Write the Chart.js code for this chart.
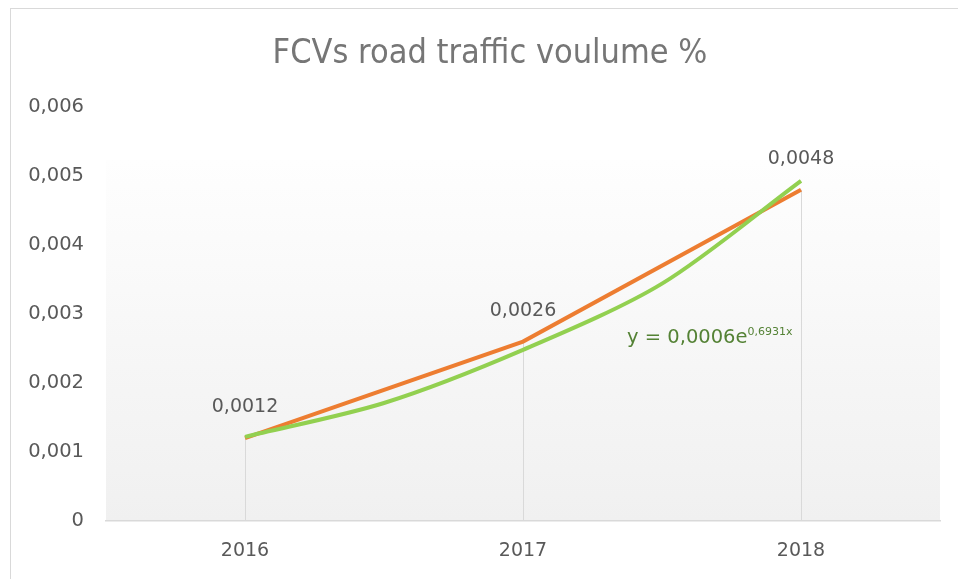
<!DOCTYPE html>
<html>
<head>
<meta charset="utf-8">
<script src="https://cdn.jsdelivr.net/npm/chart.js@4"></script>
<style>
  html, body { margin: 0; padding: 0; background: #fff; }
  #wrap { width: 958px; height: 579px; position: relative; }
</style>
</head>
<body>
<div id="wrap"><canvas id="grafico" width="958" height="579"></canvas></div>
<script>
// datos
var anios = [2016, 2017, 2018];
var volumen = [0.0012, 0.0026, 0.0048];
var tendenciaX = [2016, 2016.5, 2017, 2017.5, 2018];
var tendenciaY = [0.00122, 0.00171, 0.00248, 0.00344, 0.00493];
var ticksY = [0, 0.001, 0.002, 0.003, 0.004, 0.005, 0.006];
var titulo = "FCVs road traffic voulume %";
var ecuacion = "y = 0,0006e";
var exponente = "0,6931x";

var fuente = "'DejaVu Sans', sans-serif";
var gris = "#595959";

function coma(v, dec) {
  if (v === 0) return "0";
  return v.toFixed(dec).replace(".", ",");
}

var puntosVolumen = anios.map(function (a, i) { return { x: a, y: volumen[i] }; });
var puntosTendencia = tendenciaX.map(function (a, i) { return { x: a, y: tendenciaY[i] }; });

// fondo, borde, titulo, lineas de caida y etiquetas
var decorado = {
  id: "decorado",
  beforeDraw: function (chart) {
    var ctx = chart.ctx, a = chart.chartArea;
    ctx.save();
    ctx.fillStyle = "#fff";
    ctx.fillRect(0, 0, chart.width, chart.height);
    var g = ctx.createLinearGradient(0, 160, 0, a.bottom);
    g.addColorStop(0, "#fefefe");
    g.addColorStop(1, "#f0f0f0");
    ctx.fillStyle = g;
    ctx.fillRect(a.left, 160, a.right - a.left, a.bottom - 160);
    ctx.strokeStyle = "#d9d9d9";
    ctx.lineWidth = 1;
    ctx.strokeRect(10.5, 8.5, 980, 620);
    ctx.fillStyle = "#767676";
    ctx.font = "300 34px 'DejaVu Sans Condensed', " + fuente;
    ctx.textAlign = "center";
    ctx.textBaseline = "middle";
    ctx.fillText(titulo, 490, 54);
    ctx.restore();
  },
  beforeDatasetsDraw: function (chart) {
    var ctx = chart.ctx, a = chart.chartArea;
    var meta = chart.getDatasetMeta(0);
    ctx.save();
    ctx.strokeStyle = "#d9d9d9";
    ctx.lineWidth = 1;
    meta.data.forEach(function (p) {
      ctx.beginPath();
      ctx.moveTo(Math.round(p.x) + 0.5, p.y);
      ctx.lineTo(Math.round(p.x) + 0.5, a.bottom);
      ctx.stroke();
    });
    ctx.restore();
  },
  afterDatasetsDraw: function (chart) {
    var ctx = chart.ctx;
    var meta = chart.getDatasetMeta(0);
    ctx.save();
    ctx.fillStyle = gris;
    ctx.font = "19px " + fuente;
    ctx.textAlign = "center";
    ctx.textBaseline = "middle";
    meta.data.forEach(function (p, i) {
      ctx.fillText(coma(volumen[i], 4), p.x, p.y - 31);
    });
    // etiqueta de la linea de tendencia
    var x = chart.scales.x.getPixelForValue(2017) + 104;
    var y = chart.scales.y.getPixelForValue(0.00265);
    ctx.fillStyle = "#548235";
    ctx.textAlign = "left";
    ctx.font = "19.5px " + fuente;
    ctx.fillText(ecuacion, x, y);
    var w = ctx.measureText(ecuacion).width;
    ctx.font = "11px " + fuente;
    ctx.fillText(exponente, x + w, y - 6);
    ctx.restore();
  }
};

new Chart(document.getElementById("grafico"), {
  type: "line",
  data: {
    datasets: [
      {
        label: "Volumen",
        data: puntosVolumen,
        borderColor: "#ED7D31",
        borderWidth: 4,
        pointRadius: 0,
        tension: 0,
        fill: false,
        order: 1
      },
      {
        label: "Tendencia",
        data: puntosTendencia,
        borderColor: "#92D050",
        borderWidth: 4,
        pointRadius: 0,
        tension: 0.3,
        fill: false,
        order: 0
      }
    ]
  },
  options: {
    responsive: false,
    animation: false,
    devicePixelRatio: 1,
    layout: { padding: { left: 0, right: 18, top: 107, bottom: 0 } },
    plugins: {
      legend: { display: false },
      title: { display: false },
      tooltip: { enabled: false }
    },
    scales: {
      x: {
        type: "linear",
        min: anios[0] - 0.5,
        max: anios[anios.length - 1] + 0.5,
        afterBuildTicks: function (s) { s.ticks = anios.map(function (v) { return { value: v }; }); },
        grid: { display: false },
        border: { display: true, color: "#d9d9d9", width: 1.5 },
        ticks: {
          color: gris,
          font: { family: fuente, size: 19 },
          padding: 11,
          callback: function (v) { return String(v); }
        },
        afterFit: function (s) { s.height = 58; }
      },
      y: {
        min: 0,
        max: 0.006,
        afterBuildTicks: function (s) { s.ticks = ticksY.map(function (v) { return { value: v }; }); },
        grid: { display: false },
        border: { display: false },
        ticks: {
          color: gris,
          font: { family: fuente, size: 19.5 },
          padding: 14,
          callback: function (v) { return coma(v, 3); }
        },
        afterFit: function (s) { s.width = 106; }
      }
    }
  },
  plugins: [decorado]
});
</script>
</body>
</html>
